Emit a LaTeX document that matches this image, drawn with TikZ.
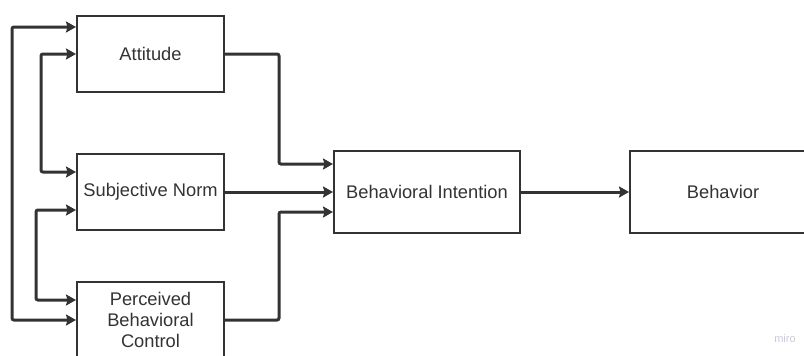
\documentclass[tikz,border=0pt]{standalone}
\usepackage{fontspec}
\setmainfont{Liberation Sans}
\usepackage{tikz}
\usetikzlibrary{arrows.meta}
\definecolor{ink}{HTML}{333333}
\definecolor{mirogray}{HTML}{C9C9D6}

\begin{document}
\begin{tikzpicture}[
        x=1pt,y=-1pt,
        box/.style={draw=ink,line width=2pt,fill=white,text=ink,align=center,inner sep=0pt,
                    font=\fontsize{18.3}{21}\selectfont},
        link/.style={draw=ink,line width=3pt,-{Stealth[length=10pt,width=11pt,inset=1.5pt]},rounded corners=2pt},
        both/.style={link,{Stealth[length=10pt,width=11pt,inset=1.5pt]}-{Stealth[length=10pt,width=11pt,inset=1.5pt]}}
    ]
        \useasboundingbox (0,0) rectangle (804,356);
        \clip (0,0) rectangle (804,356);

        \node[box,minimum width=147pt,minimum height=76pt] (att) at (150.5,54) {Attitude};
        \node[box,minimum width=147pt,minimum height=76pt] (sn) at (150.5,192) {Subjective Norm};
        \node[box,minimum width=147pt,minimum height=76pt] (pbc) at (150.5,320) {Perceived\\Behavioral\\Control};
        \node[box,minimum width=186pt,minimum height=82pt] (bi) at (427,192) {Behavioral Intention};
        \node[box,minimum width=186pt,minimum height=82pt] (beh) at (723,192) {Behavior};

        \draw[both] ([yshift=27pt]att.west) -- ++(-64,0) |- (pbc.west);
        \draw[both] (att.west) -- ++(-35,0) |- ([yshift=20pt]sn.west);
        \draw[both] ([yshift=-18pt]sn.west) -- ++(-40,0) |- ([yshift=20pt]pbc.west);

        \draw[link] (att.east) -- ++(54,0) |- ([yshift=28pt]bi.west);
        \draw[link] (sn.east) -- (bi.west);
        \draw[link] (pbc.east) -- ++(54,0) |- ([yshift=-20pt]bi.west);
        \draw[link] (bi.east) -- (beh.west);

        \node[text=mirogray,font=\fontsize{11}{12}\selectfont] (mark) at (785,339) {miro};
    \end{tikzpicture}
\end{document}
